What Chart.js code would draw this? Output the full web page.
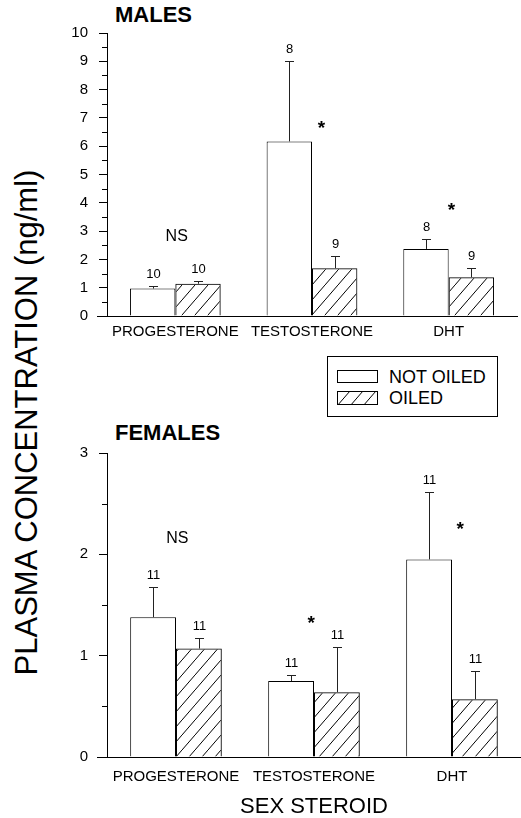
<!DOCTYPE html>
<html>
<head>
<meta charset="utf-8">
<script src="https://cdn.jsdelivr.net/npm/chart.js@4.4.1/dist/chart.umd.min.js"></script>
<style>
  body { margin: 0; background: #fff; width: 521px; height: 818px; position: relative; overflow: hidden;
         font-family: "Liberation Sans", Arial, sans-serif; color: #000; }
  canvas { position: absolute; left: 0; }
  .panel-title { position: absolute; left: 115px; font-weight: bold; font-size: 22px; line-height: 22px; }
  #yTitle { position: absolute; left: -234px; top: 407px; width: 520px; text-align: center;
            font-size: 31px; line-height: 31px; transform: rotate(-90deg); white-space: nowrap; }
  #legend { position: absolute; left: 327px; top: 356px; width: 171px; height: 61px; border: 1px solid #000; box-sizing: border-box; }
  .row { position: absolute; left: 9px; height: 14px; }
  .row canvas { position: absolute; left: 0; top: 0; }
  .row span { position: absolute; left: 52px; top: -3px; font-size: 18px; line-height: 20px; white-space: nowrap; }
</style>
</head>
<body>
<div class="panel-title" style="top:4px">MALES</div>
<div class="panel-title" style="top:422px">FEMALES</div>
<div id="yTitle">PLASMA CONCENTRATION (ng/ml)</div>
<canvas id="malesChart" width="521" height="345" style="top:0"></canvas>
<canvas id="femalesChart" width="521" height="398" style="top:420px"></canvas>
<div id="legend"></div>

<script>
// 카테고리 / 시리즈
const steroids = ["PROGESTERONE", "TESTOSTERONE", "DHT"];
const seriesNames = ["NOT OILED", "OILED"];

// 수컷 (ng/ml), 오차 = 위쪽 오차막대 길이
const malesNotOiled = [0.97, 6.17, 2.37];
const malesNotOiledErr = [0.09, 2.84, 0.34];
const malesOiled = [1.14, 1.69, 1.37];
const malesOiledErr = [0.10, 0.42, 0.34];
const malesNotOiledN = [10, 8, 8];
const malesOiledN = [10, 9, 9];
const malesYMax = 10;

// 암컷
const femalesNotOiled = [1.38, 0.75, 1.95];
const femalesNotOiledErr = [0.30, 0.06, 0.67];
const femalesOiled = [1.07, 0.64, 0.57];
const femalesOiledErr = [0.10, 0.45, 0.28];
const femalesNotOiledN = [11, 11, 11];
const femalesOiledN = [11, 11, 11];
const femalesYMax = 3;

// 유의성 표시 (텍스트, 값 위치, 카테고리 내 x 이동)
const malesMarks = ["NS", "*", "*"];
const malesMarkY = [2.8, 6.8, 3.9];
const malesMarkDx = [0.01, 0.07, 0.02];
const femalesMarks = ["NS", "*", "*"];
const femalesMarkY = [2.16, 1.36, 2.29];
const femalesMarkDx = [0.01, -0.02, 0.06];

const FONT = '"Liberation Sans", Arial, sans-serif';

// 빗금 패턴
function makeHatch(ctx) {
  const c = document.createElement("canvas");
  c.width = 13; c.height = 15;
  const g = c.getContext("2d");
  g.strokeStyle = "#000";
  g.lineWidth = 1;
  g.beginPath();
  g.moveTo(0, 15); g.lineTo(13, 0);
  g.moveTo(-2, 2); g.lineTo(2, -2);
  g.moveTo(11, 17); g.lineTo(15, 13);
  g.stroke();
  return ctx.createPattern(c, "repeat");
}

// 오차막대, n 표시, 유의성, 보조 눈금
const annotatePlugin = {
  id: "annotate",
  afterDatasetsDraw(chart, args, opts) {
    const ctx = chart.ctx;
    const xs = chart.scales.x, ys = chart.scales.y;
    const area = chart.chartArea;
    ctx.save();
    ctx.fillStyle = "#000";
    ctx.textAlign = "center";

    chart.data.datasets.forEach((ds, i) => {
      chart.getDatasetMeta(i).data.forEach((bar, j) => {
        const top = ys.getPixelForValue(ds.data[j] + opts.errors[i][j]);
        const bx = Math.round(bar.x) + 0.5;
        const ty = Math.round(top) + 0.5;
        ctx.strokeStyle = "#222";
        ctx.lineWidth = 1;
        ctx.beginPath();
        ctx.moveTo(bx, bar.y);
        ctx.lineTo(bx, ty);
        ctx.moveTo(bx - 4.5, ty);
        ctx.lineTo(bx + 4.5, ty);
        ctx.stroke();
        ctx.font = "13px " + FONT;
        ctx.textBaseline = "alphabetic";
        ctx.fillText(String(opts.counts[i][j]), bx, ty - 9);
      });
    });

    opts.marks.forEach((m, k) => {
      const step = xs.getPixelForValue(1) - xs.getPixelForValue(0);
      const x = xs.getPixelForValue(k) + opts.markDx[k] * step;
      const y = ys.getPixelForValue(opts.markY[k]);
      ctx.textBaseline = "middle";
      if (m === "*") {
        ctx.font = "bold 19px " + FONT;
        ctx.fillText(m, x, y + 5);
      } else {
        ctx.font = "16px " + FONT;
        ctx.fillText(m, x, y);
      }
    });

    // 보조 눈금 (0.5 간격)
    ctx.strokeStyle = "#000";
    ctx.lineWidth = 1;
    ctx.beginPath();
    for (let v = 0.5; v < ys.max; v += 1) {
      const y = Math.round(ys.getPixelForValue(v)) + 0.5;
      ctx.moveTo(area.left - 5, y);
      ctx.lineTo(area.left, y);
    }
    // x축 왼쪽 연장
    const y0 = Math.round(ys.getPixelForValue(0)) + 0.5;
    ctx.moveTo(area.left - 10, y0);
    ctx.lineTo(area.left, y0);
    ctx.stroke();
    ctx.restore();
  },
};

function buildChart(id, notOiled, oiled, yMax, rightPad, xHeight, labelPad, extra) {
  const ctx = document.getElementById(id).getContext("2d");
  const hatch = makeHatch(ctx);
  return new Chart(ctx, {
    type: "bar",
    data: {
      labels: steroids,
      datasets: [
        { label: seriesNames[0], data: notOiled, backgroundColor: "#fff", borderColor: "#000", borderWidth: 1 },
        { label: seriesNames[1], data: oiled, backgroundColor: hatch, borderColor: "#000", borderWidth: 1 },
      ],
    },
    options: {
      responsive: false,
      animation: false,
      devicePixelRatio: 1,
      layout: { padding: { top: 33, left: 0, right: rightPad, bottom: 0 } },
      datasets: { bar: { categoryPercentage: 0.664, barPercentage: 1 } },
      plugins: {
        legend: { display: false },
        tooltip: { enabled: false },
        annotate: extra,
      },
      scales: {
        x: {
          grid: { display: false, drawTicks: false, tickLength: 0 },
          border: { display: true, color: "#000", width: 1 },
          ticks: { color: "#000", font: { family: FONT, size: 15 }, padding: labelPad, maxRotation: 0, autoSkip: false },
          title: extra.xTitle
            ? { display: true, text: extra.xTitle, color: "#000", font: { family: FONT, size: 22, lineHeight: 1 }, padding: { top: 0, bottom: 0 } }
            : { display: false },
          afterFit(scale) { scale.height = xHeight; },
        },
        y: {
          min: 0,
          max: yMax,
          grid: { drawOnChartArea: false, drawTicks: true, tickLength: 8, tickColor: "#000", tickWidth: 1 },
          border: { display: true, color: "#000", width: 1 },
          ticks: { stepSize: 1, color: "#000", font: { family: FONT, size: 15 }, padding: 11 },
          afterFit(scale) { scale.width = 107; },
        },
      },
    },
    plugins: [annotatePlugin],
  });
}

buildChart("malesChart", malesNotOiled, malesOiled, malesYMax, 4, 29, 7, {
  errors: [malesNotOiledErr, malesOiledErr],
  counts: [malesNotOiledN, malesOiledN],
  marks: malesMarks, markY: malesMarkY, markDx: malesMarkDx,
});

buildChart("femalesChart", femalesNotOiled, femalesOiled, femalesYMax, 0, 61, 11, {
  errors: [femalesNotOiledErr, femalesOiledErr],
  counts: [femalesNotOiledN, femalesOiledN],
  marks: femalesMarks, markY: femalesMarkY, markDx: femalesMarkDx,
  xTitle: "SEX STEROID",
});

// 범례
(function buildLegend() {
  const legend = document.getElementById("legend");
  const tops = [13, 34];
  const heights = [13, 14];
  seriesNames.forEach((name, i) => {
    const row = document.createElement("div");
    row.className = "row";
    row.style.top = tops[i] + "px";
    const sw = document.createElement("canvas");
    sw.width = 41; sw.height = heights[i];
    const g = sw.getContext("2d");
    g.fillStyle = i === 0 ? "#fff" : makeHatch(g);
    g.fillRect(0, 0, 41, heights[i]);
    g.strokeStyle = "#000";
    g.strokeRect(0.5, 0.5, 40, heights[i] - 1);
    const label = document.createElement("span");
    label.textContent = name;
    row.appendChild(sw);
    row.appendChild(label);
    legend.appendChild(row);
  });
})();
</script>
</body>
</html>
